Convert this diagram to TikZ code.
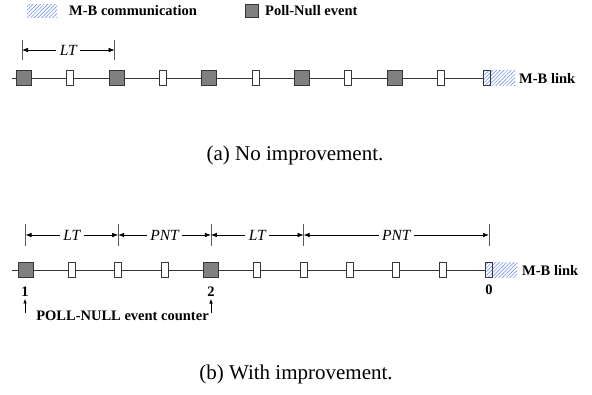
\documentclass[tikz,border=0pt]{standalone}
\usepackage{fontspec}
\setmainfont{Liberation Serif}
\usetikzlibrary{arrows.meta,patterns.meta,backgrounds}
\definecolor{hatchblue}{RGB}{95,130,240}
\definecolor{evgray}{RGB}{128,128,128}
\definecolor{edgecol}{RGB}{55,55,55}
\definecolor{tickcol}{RGB}{90,90,90}
\tikzset{
  pollbox/.style={draw=edgecol, fill=evgray, minimum width=15bp, minimum height=15bp, inner sep=0pt, line width=0.8bp},
  slotbox/.style={draw=edgecol, fill=white, minimum width=7bp, minimum height=15bp, inner sep=0pt, line width=0.8bp},
  hatchfill/.style={pattern={Lines[angle=45,distance=2.6bp,line width=0.5bp]}, pattern color=hatchblue},
  mbbox/.style={draw=edgecol, hatchfill, minimum width=7bp, minimum height=15bp, inner sep=0pt, line width=0.8bp},
  mbtail/.style={hatchfill, minimum width=24bp, minimum height=15bp, inner sep=0pt, anchor=west},
  timeline/.style={draw=edgecol, line width=0.8bp},
  tickline/.style={draw=tickcol, line width=0.8bp},
  dimline/.style={{Latex[length=6bp,width=4.6bp]}-{Latex[length=6bp,width=4.6bp]}, line width=0.7bp, draw=black},
  dimlabel/.style={fill=white, inner sep=3.5bp, font=\fontsize{15.5bp}{18bp}\selectfont\itshape},
  boldtext/.style={inner sep=0pt, font=\fontsize{14.5bp}{17bp}\selectfont\bfseries},
  captiontext/.style={inner sep=0pt, font=\fontsize{21bp}{24bp}\selectfont},
  smallarrow/.style={-{Latex[length=4.5bp,width=3.6bp]}, line width=0.6bp, draw=black},
}
\begin{document}
\begin{tikzpicture}[x=1bp,y=-1bp]
\useasboundingbox (0,0) rectangle (592,394);

% legend
\node[hatchfill, minimum width=30bp, minimum height=13bp, inner sep=0pt] (lhatch) at (42,10.5) {};
\node[boldtext, anchor=west] (lhtext) at (69,11) {M-B communication};
\node[pollbox, minimum width=13bp, minimum height=13bp] (lgray) at (251.5,10.5) {};
\node[boldtext, anchor=west] (lgtext) at (265,11) {Poll-Null event};

% (a) timeline
\foreach \i in {0,...,10} {
  \pgfmathsetmacro{\xx}{24+46.3*\i}
  \ifnum\i=10
    \node[mbbox] (a\i) at (\xx,78) {};
  \else
    \ifodd\i
      \node[slotbox] (a\i) at (\xx,78) {};
    \else
      \node[pollbox] (a\i) at (\xx,78) {};
    \fi
  \fi
}
\node[mbtail] (atail) at (a10.east) {};
\node[boldtext, anchor=west] (alink) at (519,78) {M-B link};
\coordinate (astart) at (12,78);
\begin{scope}[on background layer]
  \draw[timeline] (astart) -- (a10);
\end{scope}

\path (a0) ++(-2,-28) coordinate (ta0);
\path (a2) ++(-2,-28) coordinate (ta2);
\draw[tickline] (ta0) ++(0,-10) -- ++(0,20);
\draw[tickline] (ta2) ++(0,-10) -- ++(0,20);
\draw[dimline] (ta0) -- node[dimlabel] {LT} (ta2);

\node[captiontext] (capa) at (295,155) {(a) No improvement.};

% (b) timeline
\foreach \i in {0,...,10} {
  \pgfmathsetmacro{\xx}{25.5+46.35*\i}
  \ifnum\i=10
    \node[mbbox] (b\i) at (\xx,270) {};
  \else
    \ifnum\i=0
      \node[pollbox] (b\i) at (\xx,270) {};
    \else
      \ifnum\i=4
        \node[pollbox] (b\i) at (\xx,270) {};
      \else
        \node[slotbox] (b\i) at (\xx,270) {};
      \fi
    \fi
  \fi
}
\node[mbtail] (btail) at (b10.east) {};
\node[boldtext, anchor=west] (blink) at (522,270) {M-B link};
\coordinate (bstart) at (12,270);
\begin{scope}[on background layer]
  \draw[timeline] (bstart) -- (b10);
\end{scope}

\foreach \j in {0,2,4,6,10} {
  \path (b\j) ++(0,-35) coordinate (tb\j);
  \draw[tickline] (tb\j) ++(0,-11) -- ++(0,22);
}
\draw[dimline] (tb0) -- node[dimlabel] {LT} (tb2);
\draw[dimline] (tb2) -- node[dimlabel] {PNT} (tb4);
\draw[dimline] (tb4) -- node[dimlabel] {LT} (tb6);
\draw[dimline] (tb6) -- node[dimlabel] {PNT} (tb10);

\node[boldtext] (n1) at (25,292) {1};
\node[boldtext] (n2) at (211,292) {2};
\node[boldtext] (n0) at (489,290) {0};

\coordinate (c1) at (25,313);
\coordinate (c2) at (211,313);
\draw[smallarrow] (c1) -- ([yshift=-2bp]n1.south);
\draw[smallarrow] (c2) -- ([yshift=-2bp]n2.south);
\node[boldtext] (ctext) at (122.5,316) {POLL-NULL event counter};

\node[captiontext] (capb) at (296,374) {(b) With improvement.};
\end{tikzpicture}
\end{document}
